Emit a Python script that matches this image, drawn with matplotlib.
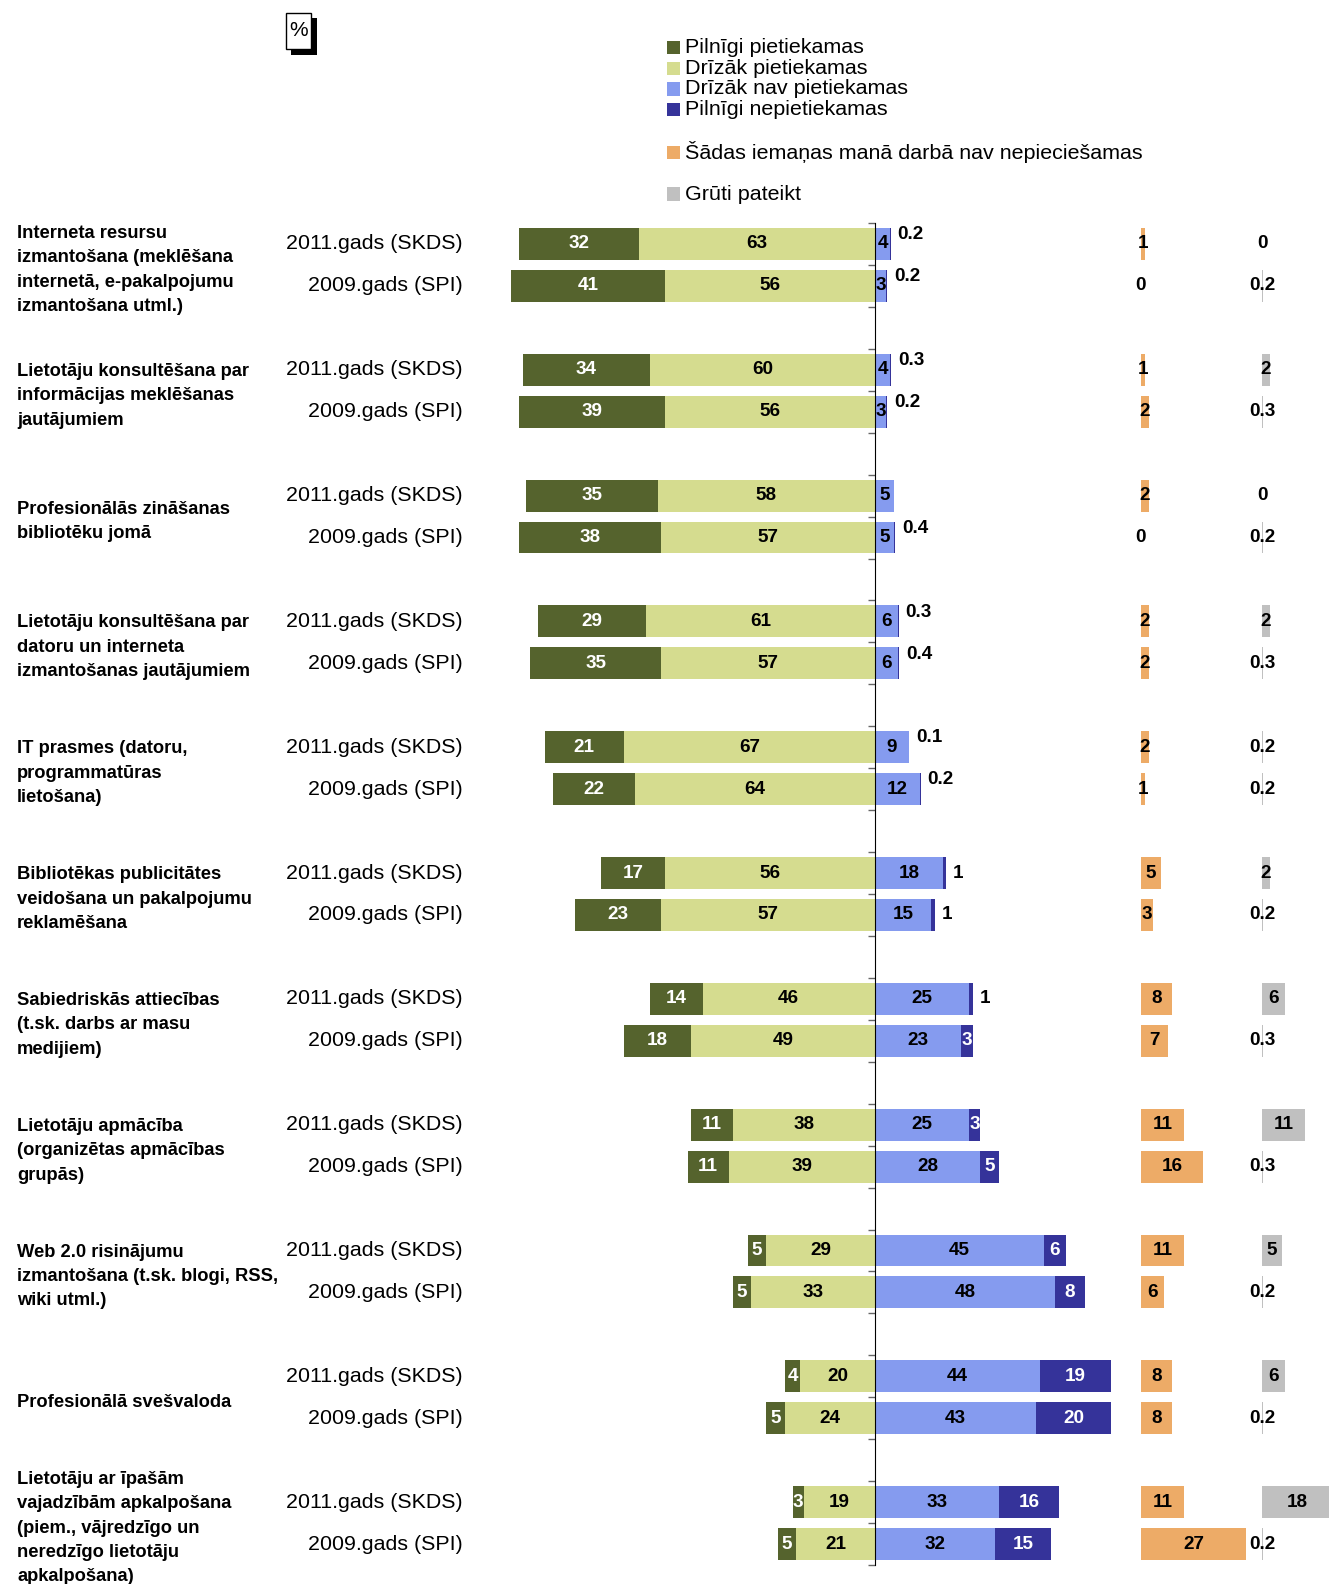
import numpy as np
import matplotlib.pyplot as plt
from matplotlib.patches import Rectangle
from matplotlib.transforms import blended_transform_factory

plt.rcParams['font.family'] = ['Liberation Sans', 'DejaVu Sans']

categories = [
    "Interneta resursu\nizmantošana (meklēšana\ninternetā, e-pakalpojumu\nizmantošana utml.)",
    "Lietotāju konsultēšana par\ninformācijas meklēšanas\njautājumiem",
    "Profesionālās zināšanas\nbibliotēku jomā",
    "Lietotāju konsultēšana par\ndatoru un interneta\nizmantošanas jautājumiem",
    "IT prasmes (datoru,\nprogrammatūras\nlietošana)",
    "Bibliotēkas publicitātes\nveidošana un pakalpojumu\nreklamēšana",
    "Sabiedriskās attiecības\n(t.sk. darbs ar masu\nmedijiem)",
    "Lietotāju apmācība\n(organizētas apmācības\ngrupās)",
    "Web 2.0 risinājumu\nizmantošana (t.sk. blogi, RSS,\nwiki utml.)",
    "Profesionālā svešvaloda",
    "Lietotāju ar īpašām\nvajadzībām apkalpošana\n(piem., vājredzīgo un\nneredzīgo lietotāju\napkalpošana)",
]
years = ["2011.gads (SKDS)", "2009.gads (SPI)"]

# rows go 2011, 2009 for each category
pilnigi_piet = [32, 41, 34, 39, 35, 38, 29, 35, 21, 22, 17, 23, 14, 18, 11, 11, 5, 5, 4, 5, 3, 5]
drizak_piet = [63, 56, 60, 56, 58, 57, 61, 57, 67, 64, 56, 57, 46, 49, 38, 39, 29, 33, 20, 24, 19, 21]
drizak_nav = [4, 3, 4, 3, 5, 5, 6, 6, 9, 12, 18, 15, 25, 23, 25, 28, 45, 48, 44, 43, 33, 32]
pilnigi_nepiet = [0.2, 0.2, 0.3, 0.2, 0, 0.4, 0.3, 0.4, 0.1, 0.2, 1, 1, 1, 3, 3, 5, 6, 8, 19, 20, 16, 15]
nav_vajag = [1, 0, 1, 2, 2, 0, 2, 2, 2, 1, 5, 3, 8, 7, 11, 16, 11, 6, 8, 8, 11, 27]
gruti = [0, 0.2, 2, 0.3, 0, 0.2, 2, 0.3, 0.2, 0.2, 2, 0.2, 6, 0.3, 11, 0.3, 5, 0.2, 6, 0.2, 18, 0.2]

legend_labels = ["Pilnīgi pietiekamas", "Drīzāk pietiekamas", "Drīzāk nav pietiekamas",
                 "Pilnīgi nepietiekamas", "Šādas iemaņas manā darbā nav nepieciešamas", "Grūti pateikt"]
colors = ["#55632d", "#d5dc8f", "#859bef", "#35339a", "#edab67", "#c0c0c0"]

W, H, DPI = 1329, 1584, 100
fig = plt.figure(figsize=(W / DPI, H / DPI), dpi=DPI)


def rect(x0, y0, x1, y1):
    return [x0 / W, 1 - y1 / H, (x1 - x0) / W, (y1 - y0) / H]


AX_TOP, AX_BOT = 223, 1565
ZERO_X, SCALE = 875, 3.75
SIDE_SCALE = 3.9
BAR_H = 0.76

n = len(categories)
ypos = np.array([3 * g + k for g in range(n) for k in range(2)])
ylim = (3 * n - 1.5, -0.5)

ax = fig.add_axes(rect(480, AX_TOP, 1125, AX_BOT))
ax.set_xlim(-(ZERO_X - 480) / SCALE, (1125 - ZERO_X) / SCALE)
ax.set_ylim(*ylim)

pp = np.array(pilnigi_piet)
dp = np.array(drizak_piet)
dn = np.array(drizak_nav)
pn = np.array(pilnigi_nepiet)

ax.barh(ypos, -dp, height=BAR_H, color=colors[1], linewidth=0)
ax.barh(ypos, -pp, left=-dp, height=BAR_H, color=colors[0], linewidth=0)
ax.barh(ypos, dn, height=BAR_H, color=colors[2], linewidth=0)
ax.barh(ypos, pn, left=dn, height=BAR_H, color=colors[3], linewidth=0)

lab = dict(fontsize=13.6, fontweight='bold', ha='center', va='center')
for i, y in enumerate(ypos):
    ax.text(-dp[i] - pp[i] / 2, y, f"{pp[i]:g}", color='white', **lab)
    ax.text(-dp[i] / 2, y, f"{dp[i]:g}", color='black', **lab)
    ax.text(dn[i] / 2, y, f"{dn[i]:g}", color='black', **lab)
    if pn[i] >= 2:
        ax.text(dn[i] + pn[i] / 2, y, f"{pn[i]:g}", color='white', **lab)
    elif pn[i] > 0:
        dy = -0.22 if pn[i] < 1 else 0
        ax.text(dn[i] + pn[i] + 7 / SCALE, y + dy, f"{pn[i]:g}", color='black',
                fontsize=13.6, fontweight='bold', ha='left', va='center')

ax.spines['left'].set_position(('data', 0))
ax.spines['left'].set_color('black')
for s in ['top', 'right', 'bottom']:
    ax.spines[s].set_visible(False)
ax.set_xticks([])
ax.set_yticks(np.arange(-0.5, 3 * n - 1, 1))
ax.tick_params(axis='y', direction='out', length=5, width=1, color='#666666', labelleft=False)

# side columns
ax_o = fig.add_axes(rect(1141, AX_TOP, 1252, AX_BOT))
ax_o.set_xlim(0, 111 / SIDE_SCALE)
ax_g = fig.add_axes(rect(1262, AX_TOP, 1329, AX_BOT))
ax_g.set_xlim(0, 67 / SIDE_SCALE)
for a, vals, c in [(ax_o, nav_vajag, colors[4]), (ax_g, gruti, colors[5])]:
    a.set_ylim(*ylim)
    a.axis('off')
    a.barh(ypos, vals, height=BAR_H, color=c, linewidth=0)
    for v, y in zip(vals, ypos):
        a.text(v / 2, y, f"{v:g}", color='black', **lab)

# row and category labels
tr = blended_transform_factory(fig.transFigure, ax.transData)
for g, cat in enumerate(categories):
    fig.text(17 / W, 3 * g + 0.62, cat, transform=tr, ha='left', va='center',
             fontsize=13.2, fontweight='bold', linespacing=1.57)
for y, yr in zip(ypos, years * n):
    fig.text(463 / W, y, yr, transform=tr, ha='right', va='center', fontsize=15.4)

# legend
legend_y = [47.5, 68.3, 89, 109.7, 152.3, 194]
for lbl, c, yc in zip(legend_labels, colors, legend_y):
    fig.patches.append(Rectangle((667 / W, 1 - (yc + 6.5) / H), 13 / W, 13 / H,
                                 transform=fig.transFigure, facecolor=c, linewidth=0))
    fig.text(685 / W, 1 - yc / H, lbl, ha='left', va='center', fontsize=15.45)

# "%" box with shadow
fig.patches.append(Rectangle((291 / W, 1 - 55 / H), 26 / W, 37 / H,
                             transform=fig.transFigure, facecolor='black', linewidth=0))
fig.patches.append(Rectangle((286 / W, 1 - 49 / H), 25 / W, 36 / H,
                             transform=fig.transFigure, facecolor='white',
                             edgecolor='black', linewidth=1))
fig.text(298.5 / W, 1 - 30 / H, "%", ha='center', va='center', fontsize=15)

fig.savefig('out.png', dpi=DPI, facecolor='white')
